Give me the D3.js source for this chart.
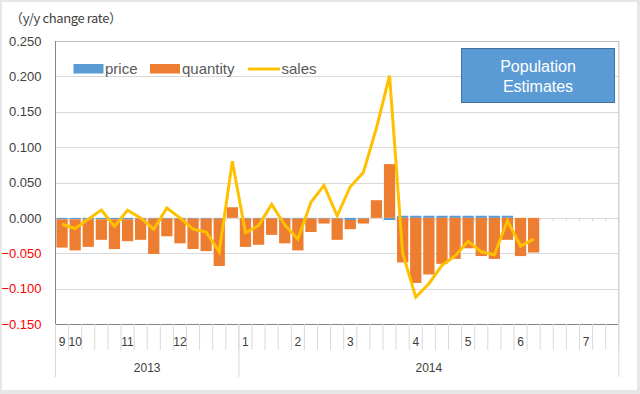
<!DOCTYPE html>
<html>
<head>
<meta charset="utf-8">
<script src="https://cdn.jsdelivr.net/npm/d3@7"></script>
<style>
  body { margin: 0; background: #e7e7e7; }
  svg { display: block; font-family: "Liberation Sans", Arial, sans-serif; }
</style>
</head>
<body>
<div id="chart"></div>
<script>
// Width and height of the picture
var width = 640;
var height = 394;

// weekly categories, month number at the first week of each month
var weekLabels = ["9", "10", "", "", "", "11", "", "", "", "12", "", "", "", "",
  "1", "", "", "", "2", "", "", "", "3", "", "", "", "", "4", "", "", "",
  "5", "", "", "", "6", "", "", "", "", "7", "", ""];
var years = ["2013", "2014"];
var yearWeeks = [14, 29]; // number of weeks under each year

var price = [-0.002, -0.002, -0.002, -0.002, -0.002, -0.002, -0.001, -0.001, -0.001, -0.001,
  -0.001, -0.001, -0.001, 0.000, -0.001, -0.001, -0.001, -0.001, -0.001, -0.001,
  -0.001, -0.001, -0.003, -0.001, 0.000, -0.003, 0.003, 0.003, 0.003, 0.003,
  0.003, 0.003, 0.003, 0.003, 0.003, 0.000, 0.000];
var quantity = [-0.040, -0.044, -0.039, -0.029, -0.042, -0.031, -0.030, -0.050, -0.025, -0.035,
  -0.043, -0.046, -0.067, 0.015, -0.040, -0.037, -0.023, -0.035, -0.045, -0.019,
  -0.007, -0.030, -0.013, -0.007, 0.025, 0.076, -0.063, -0.092, -0.080, -0.065,
  -0.058, -0.043, -0.054, -0.058, -0.031, -0.054, -0.049];
var sales = [-0.009, -0.015, -0.002, 0.011, -0.012, 0.011, 0.000, -0.016, 0.014, 0.000,
  -0.016, -0.020, -0.048, 0.080, -0.021, -0.011, 0.019, -0.010, -0.030, 0.022,
  0.046, 0.003, 0.044, 0.064, 0.127, 0.201, -0.050, -0.112, -0.093, -0.067,
  -0.054, -0.033, -0.048, -0.052, -0.004, -0.040, -0.030];

var yTicks = [0.25, 0.2, 0.15, 0.1, 0.05, 0, -0.05, -0.1, -0.15];

var colors = { price: "#5b9bd5", quantity: "#ed7d31", sales: "#ffc000" };

// plot area
var plotLeft = 55.5, plotRight = 618.8, plotTop = 41, plotBottom = 324;

var svg = d3.select("#chart").append("svg")
  .attr("width", width)
  .attr("height", height);

// white card on the grey background
svg.append("rect")
  .attr("x", 2).attr("y", 2)
  .attr("width", 635).attr("height", 388)
  .style("fill", "#fff");

var x = d3.scaleBand()
  .domain(d3.range(weekLabels.length))
  .range([plotLeft, plotRight])
  .padding(0);
var step = x.step();

var y = d3.scaleLinear()
  .domain([-0.15, 0.25])
  .range([plotBottom, plotTop]);

// gridlines
svg.append("g").selectAll("line")
  .data(yTicks)
  .enter().append("line")
  .attr("x1", plotLeft).attr("x2", plotRight)
  .attr("y1", function(d) { return Math.round(y(d)) + 0.5; })
  .attr("y2", function(d) { return Math.round(y(d)) + 0.5; })
  .style("stroke", "#d9d9d9")
  .style("stroke-width", 1);

// y axis labels
var yAxis = d3.axisLeft(y)
  .tickValues(yTicks)
  .tickFormat(d3.format(".3f"))
  .tickSize(0)
  .tickPadding(14);
var gy = svg.append("g")
  .attr("transform", "translate(" + plotLeft + ",0)")
  .call(yAxis);
gy.select(".domain").remove();
gy.selectAll("text")
  .style("font-size", "13px")
  .style("font-family", "'Liberation Sans', Arial, sans-serif")
  .style("fill", function(d) { return d < 0 ? "#ff0000" : "#404040"; });

// stacked columns, negatives stack downward
var rows = price.map(function(p, i) { return { i: i, price: p, quantity: quantity[i] }; });
var stack = d3.stack()
  .keys(["price", "quantity"])
  .offset(d3.stackOffsetDiverging);
var series = stack(rows);

svg.append("g").selectAll("g")
  .data(series)
  .enter().append("g")
  .style("fill", function(d) { return colors[d.key]; })
  .selectAll("rect")
  .data(function(d) { return d; })
  .enter().append("rect")
  .attr("x", function(d) { return x(d.data.i) + step * 0.07; })
  .attr("width", step * 0.86)
  .attr("y", function(d) { return y(Math.max(d[0], d[1])); })
  .attr("height", function(d) { return Math.abs(y(d[0]) - y(d[1])); });

// category axis line at zero with small ticks
var zeroY = Math.round(y(0)) + 0.5;
svg.append("g").selectAll("line")
  .data(d3.range(weekLabels.length + 1))
  .enter().append("line")
  .attr("x1", function(d) { return plotLeft + d * step; })
  .attr("x2", function(d) { return plotLeft + d * step; })
  .attr("y1", zeroY).attr("y2", zeroY + 3)
  .style("stroke", "#d9d9d9");

// sales line
var line = d3.line()
  .x(function(d, i) { return x(i) + step / 2; })
  .y(function(d) { return y(d); });
svg.append("path")
  .datum(sales)
  .attr("d", line)
  .style("fill", "none")
  .style("stroke", colors.sales)
  .style("stroke-width", 3)
  .style("stroke-linejoin", "miter")
  .style("stroke-miterlimit", 3);

// plot frame
svg.append("line")
  .attr("x1", plotLeft).attr("x2", plotRight).attr("y1", plotTop + 0.5).attr("y2", plotTop + 0.5)
  .style("stroke", "#bfbfbf");
svg.append("line")
  .attr("x1", plotRight).attr("x2", plotRight).attr("y1", plotTop).attr("y2", plotBottom)
  .style("stroke", "#bfbfbf");
svg.append("line")
  .attr("x1", plotLeft).attr("x2", plotLeft).attr("y1", plotTop).attr("y2", plotBottom)
  .style("stroke", "#868686");
svg.append("line")
  .attr("x1", plotLeft).attr("x2", plotRight).attr("y1", plotBottom + 0.5).attr("y2", plotBottom + 0.5)
  .style("stroke", "#868686");

// multi-level category labels
svg.append("g").selectAll("line")
  .data(d3.range(weekLabels.length + 1))
  .enter().append("line")
  .attr("x1", function(d) { return plotLeft + d * step; })
  .attr("x2", function(d) { return plotLeft + d * step; })
  .attr("y1", plotBottom).attr("y2", 350)
  .style("stroke", "#d9d9d9");

svg.append("g").selectAll("text")
  .data(weekLabels)
  .enter().append("text")
  .attr("x", function(d, i) { return x(i) + step / 2; })
  .attr("y", 346)
  .attr("text-anchor", "middle")
  .style("font-size", "12px")
  .style("fill", "#404040")
  .text(function(d) { return d; });

var yearStart = [0, yearWeeks[0]];
var bounds = [0, yearWeeks[0], yearWeeks[0] + yearWeeks[1]];
svg.append("g").selectAll("line")
  .data(bounds)
  .enter().append("line")
  .attr("x1", function(d) { return plotLeft + d * step; })
  .attr("x2", function(d) { return plotLeft + d * step; })
  .attr("y1", plotBottom).attr("y2", 377)
  .style("stroke", "#d9d9d9");
svg.append("g").selectAll("text")
  .data(years)
  .enter().append("text")
  .attr("x", function(d, i) { return plotLeft + (yearStart[i] + yearWeeks[i] / 2) * step; })
  .attr("y", 372)
  .attr("text-anchor", "middle")
  .style("font-size", "12px")
  .style("fill", "#404040")
  .text(function(d) { return d; });

// axis title
svg.append("text")
  .attr("x", 10)
  .attr("y", 23)
  .attr("textLength", 112)
  .style("font-size", "13px")
  .style("font-family", "'Noto Sans CJK JP', sans-serif")
  .style("fill", "#404040")
  .text("（y/y change rate）");

// legend
var legend = svg.append("g");
legend.append("rect")
  .attr("x", 73.5).attr("y", 64).attr("width", 30).attr("height", 9.5)
  .style("fill", colors.price);
legend.append("rect")
  .attr("x", 150).attr("y", 64).attr("width", 30).attr("height", 9.5)
  .style("fill", colors.quantity);
legend.append("line")
  .attr("x1", 248).attr("x2", 280).attr("y1", 69).attr("y2", 69)
  .style("stroke", colors.sales).style("stroke-width", 3);
var legendText = [["price", 105], ["quantity", 182], ["sales", 281.5]];
legend.selectAll("text")
  .data(legendText)
  .enter().append("text")
  .attr("x", function(d) { return d[1]; })
  .attr("y", 74)
  .style("font-size", "15px")
  .style("fill", "#595959")
  .text(function(d) { return d[0]; });

// Population Estimates box
svg.append("rect")
  .attr("x", 461.5).attr("y", 48.5).attr("width", 153).attr("height", 54)
  .style("fill", "#5b9bd5")
  .style("stroke", "#41719c");
svg.append("text")
  .attr("x", 538).attr("y", 72)
  .attr("text-anchor", "middle")
  .style("font-size", "16px")
  .style("fill", "#fff")
  .text("Population");
svg.append("text")
  .attr("x", 538).attr("y", 92)
  .attr("text-anchor", "middle")
  .style("font-size", "16px")
  .style("fill", "#fff")
  .text("Estimates");
</script>
</body>
</html>
